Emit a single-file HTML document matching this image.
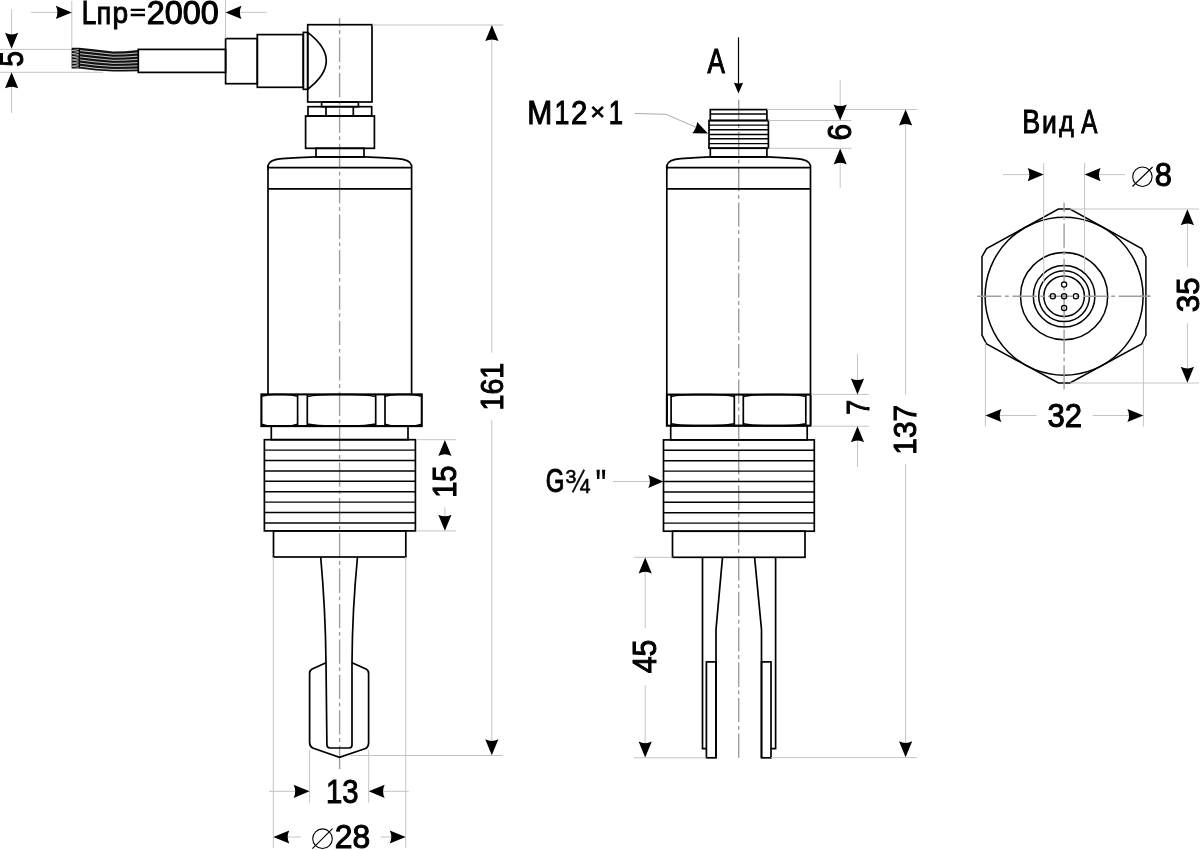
<!DOCTYPE html>
<html><head><meta charset="utf-8"><title>Drawing</title>
<style>
html,body{margin:0;padding:0;background:#fff;}
svg{display:block;will-change:transform;}
.o{fill:none;stroke:#000;stroke-width:1.7;}
.ot{fill:none;stroke:#000;stroke-width:1.45;}
.oh{fill:none;stroke:#000;stroke-width:2.1;}
.o2{fill:none;stroke:#000;stroke-width:1.5;}
.o3{fill:none;stroke:#000;stroke-width:1.5;}
.o4{fill:none;stroke:#000;stroke-width:1.25;}
.wk{fill:none;stroke:#000;stroke-width:1.2;}
.t{fill:none;stroke:#c4c4c4;stroke-width:1;}
.k{fill:none;stroke:#000;stroke-width:1.2;}
.t2{fill:none;stroke:#aaa;stroke-width:1;}
.d{fill:none;stroke:#000;stroke-width:1.1;}
.c2{fill:none;stroke:#9e9e9e;stroke-width:1.4;}
.c{fill:none;stroke:#9e9e9e;stroke-width:1.4;stroke-dasharray:24.3 3.6 3.8 3.7;}
.ar{fill:#000;stroke:none;}
text{font-family:"Liberation Sans",sans-serif;font-size:100px;fill:#000;stroke:#000;stroke-width:3.2;}
</style></head>
<body>
<svg width="1200" height="850" viewBox="0 0 1200 850">
<line class="c" x1="339.6" y1="18.2" x2="339.6" y2="769.3" stroke-dashoffset="16.0"/>
<line class="t" x1="0" y1="49.4" x2="71.6" y2="49.4"/>
<line class="t" x1="0" y1="72.3" x2="103" y2="72.3"/>
<polygon fill="#111" points="71.6,47.7 79.3,47.7 96,49.4 113,51.5 125,51.2 138.3,50.0 138.3,71.3 125,71.5 113,71.6 96,70.6 79.3,68.4 71.6,68.4"/>
<path fill="none" stroke="#fff" stroke-width="0.75" d="M79.3,50.52 L96,52.29 L113,54.24 L125,53.97 L138.3,52.90"/>
<path fill="none" stroke="#fff" stroke-width="0.6" d="M79.3,49.32 L72.2,50.52 L79.3,51.72"/>
<path fill="none" stroke="#fff" stroke-width="0.75" d="M79.3,53.66 L96,55.50 L113,57.29 L125,57.04 L138.3,56.13"/>
<path fill="none" stroke="#fff" stroke-width="0.6" d="M79.3,52.46 L72.2,53.66 L79.3,54.86"/>
<path fill="none" stroke="#fff" stroke-width="0.75" d="M79.3,56.80 L96,58.72 L113,60.33 L125,60.12 L138.3,59.36"/>
<path fill="none" stroke="#fff" stroke-width="0.6" d="M79.3,55.60 L72.2,56.80 L79.3,58.00"/>
<path fill="none" stroke="#fff" stroke-width="0.75" d="M79.3,59.93 L96,61.93 L113,63.38 L125,63.20 L138.3,62.59"/>
<path fill="none" stroke="#fff" stroke-width="0.6" d="M79.3,58.73 L72.2,59.93 L79.3,61.13"/>
<path fill="none" stroke="#fff" stroke-width="0.75" d="M79.3,63.07 L96,65.14 L113,66.42 L125,66.27 L138.3,65.81"/>
<path fill="none" stroke="#fff" stroke-width="0.6" d="M79.3,61.87 L72.2,63.07 L79.3,64.27"/>
<path fill="none" stroke="#fff" stroke-width="0.75" d="M79.3,66.20 L96,68.35 L113,69.47 L125,69.35 L138.3,69.04"/>
<path fill="none" stroke="#fff" stroke-width="0.6" d="M79.3,65.00 L72.2,66.20 L79.3,67.40"/>
<line class="wk" x1="79.3" y1="47.9" x2="79.3" y2="68.2"/>
<rect class="o" x="138.3" y="49.4" width="87.30" height="23.00"/>
<rect class="o" x="225.6" y="38.6" width="31.70" height="45.10"/>
<rect class="o" x="257.3" y="34.6" width="46.00" height="52.70"/>
<rect class="o" x="303.3" y="32.4" width="4.40" height="56.90"/>
<path class="o" d="M307.7,32.4 Q344.9,60.85 307.7,89.3"/>
<rect class="o" x="307.7" y="24.7" width="64.30" height="77.30"/>
<rect class="o" x="321.6" y="102" width="36.80" height="4.70"/>
<rect class="o" x="308" y="106.7" width="63.70" height="9.30"/>
<line class="o" x1="326" y1="106.7" x2="326" y2="116"/>
<line class="o" x1="353.3" y1="106.7" x2="353.3" y2="116"/>
<rect class="o" x="305.6" y="116" width="68.80" height="32.30"/>
<rect class="o" x="316" y="148.3" width="48.00" height="8.70"/>
<path class="o" d="M268,170 L268,165.5 Q269.5,159.5 282,158.6 Q298,157.3 316,156.9 L364,156.9 Q381.6,157.3 397.6,158.6 Q410.1,159.5 411.6,165.5 L411.6,394.4"/>
<path class="o" d="M268,165.5 L268,394.4"/>
<line class="o" x1="268" y1="167.6" x2="411.6" y2="167.6"/>
<line class="o" x1="268" y1="188.9" x2="411.6" y2="188.9"/>
<rect class="oh" x="261.4" y="394.4" width="160.35" height="31.70"/>
<line class="o" x1="297.6" y1="394.4" x2="297.6" y2="426.1"/>
<line class="o" x1="307.3" y1="394.4" x2="307.3" y2="426.1"/>
<line class="o" x1="375.7" y1="394.4" x2="375.7" y2="426.1"/>
<line class="o" x1="385" y1="394.4" x2="385" y2="426.1"/>
<path class="o2" d="M261.4,396.4 Q266.83,394.4 274.07,394.4 L284.93,394.4 Q292.17,394.4 297.6,396.4"/>
<path class="o2" d="M261.4,424.1 Q266.83,426.1 274.07,426.1 L284.93,426.1 Q292.17,426.1 297.6,424.1"/>
<path class="o2" d="M307.3,396.4 Q317.56,394.4 331.24,394.4 L351.76,394.4 Q365.44,394.4 375.7,396.4"/>
<path class="o2" d="M307.3,424.1 Q317.56,426.1 331.24,426.1 L351.76,426.1 Q365.44,426.1 375.7,424.1"/>
<path class="o2" d="M385,396.4 Q390.5125,394.4 397.8625,394.4 L408.8875,394.4 Q416.2375,394.4 421.75,396.4"/>
<path class="o2" d="M385,424.1 Q390.5125,426.1 397.8625,426.1 L408.8875,426.1 Q416.2375,426.1 421.75,424.1"/>
<rect class="o" x="271.3" y="426.1" width="136.70" height="13.60"/>
<rect class="o" x="264.4" y="439.7" width="151.00" height="91.20"/>
<line class="ot" x1="264.4" y1="450.1" x2="415.4" y2="450.1"/>
<line class="ot" x1="264.4" y1="460.5" x2="415.4" y2="460.5"/>
<line class="ot" x1="264.4" y1="470.9" x2="415.4" y2="470.9"/>
<line class="ot" x1="264.4" y1="481.3" x2="415.4" y2="481.3"/>
<line class="ot" x1="264.4" y1="491.7" x2="415.4" y2="491.7"/>
<line class="ot" x1="264.4" y1="502.1" x2="415.4" y2="502.1"/>
<line class="ot" x1="264.4" y1="512.5" x2="415.4" y2="512.5"/>
<line class="ot" x1="264.4" y1="522.9" x2="415.4" y2="522.9"/>
<rect class="o" x="273.5" y="530.9" width="132.30" height="26.10"/>
<path class="o" d="M320.7,557 Q325.5,610 326,662.7 L326.9,744.5 Q327,748 330,748 L349,748 Q352,748 352,745 L352,662.7 Q352.3,610 357.5,557"/>
<path class="o" d="M326,662.7 L311.7,669.3 Q309.6,670.6 309.6,673.5 L309.6,742.5 Q309.6,746.5 312.7,748 L339.5,757.3 L365.5,748.5 Q368.6,747 368.6,743 L368.6,673.5 Q368.6,670.6 366.5,669.3 L352,662.7"/>
<line class="t" x1="71.8" y1="1" x2="71.8" y2="47.6"/>
<line class="t" x1="225.5" y1="0" x2="225.5" y2="38.6"/>
<line class="t" x1="31" y1="12.4" x2="60" y2="12.4"/>
<path class="ar" d="M71.8,12.4 L55.8,19.0 Q59.099999999999994,12.4 55.8,5.800000000000001 Z"/>
<line class="t" x1="238" y1="12.4" x2="266.7" y2="12.4"/>
<path class="ar" d="M225.5,12.4 L241.5,19.0 Q238.2,12.4 241.5,5.800000000000001 Z"/>
<text transform="translate(81.87,23.68) scale(0.2617,0.3239)">L</text>
<text transform="translate(96.67,23.69) scale(0.2659,0.3107)">п</text>
<text transform="translate(112.59,23.03) scale(0.2812,0.3032)">р</text>
<path class="ar" d="M130.7,8.65 H145 V10.9 H130.7 Z M130.7,13.7 H145 V16.2 H130.7 Z"/>
<text transform="translate(146.73,23.55) scale(0.3240,0.3274)">2000</text>
<line class="t" x1="11.6" y1="9.2" x2="11.6" y2="36"/>
<path class="ar" d="M11.6,48.8 L18.2,32.8 Q11.6,36.099999999999994 5.0,32.8 Z"/>
<line class="t" x1="11.6" y1="86" x2="11.6" y2="113"/>
<path class="ar" d="M11.6,72.3 L18.2,88.3 Q11.6,85.0 5.0,88.3 Z"/>
<text transform="translate(22.93,66.76) rotate(-90) scale(0.2824,0.3347)">5</text>
<line class="t" x1="372" y1="25.0" x2="503.3" y2="25.0"/>
<line class="t" x1="350" y1="755.5" x2="503" y2="755.5"/>
<line class="t" x1="491.8" y1="36" x2="491.8" y2="352.7"/>
<line class="t" x1="491.8" y1="420" x2="491.8" y2="744"/>
<path class="ar" d="M491.9,25.1 L498.5,41.1 Q491.9,37.800000000000004 485.29999999999995,41.1 Z"/>
<path class="ar" d="M491.8,755.3 L498.40000000000003,739.3 Q491.8,742.5999999999999 485.2,739.3 Z"/>
<text transform="translate(502.67,410.52) rotate(-90) scale(0.2861,0.3151)">161</text>
<line class="t" x1="416" y1="439.7" x2="456" y2="439.7"/>
<line class="t" x1="416" y1="530.9" x2="456" y2="530.9"/>
<line class="t" x1="444.9" y1="507.3" x2="444.9" y2="519"/>
<path class="ar" d="M444.9,439.9 L451.5,455.9 Q444.9,452.59999999999997 438.29999999999995,455.9 Z"/>
<path class="ar" d="M444.9,530.7 L451.5,514.7 Q444.9,518.0 438.29999999999995,514.7 Z"/>
<text transform="translate(456.23,497.85) rotate(-90) scale(0.2912,0.3333)">15</text>
<line class="t" x1="273.3" y1="557" x2="273.3" y2="848"/>
<line class="t" x1="405.7" y1="557" x2="405.7" y2="848"/>
<line class="t" x1="309.6" y1="750" x2="309.6" y2="802.7"/>
<line class="t" x1="368.7" y1="750" x2="368.7" y2="802.7"/>
<line class="t" x1="269" y1="791.3" x2="298" y2="791.3"/>
<path class="ar" d="M309.6,791.3 L293.6,797.9 Q296.90000000000003,791.3 293.6,784.6999999999999 Z"/>
<line class="t" x1="380" y1="791.3" x2="408.7" y2="791.3"/>
<path class="ar" d="M368.7,791.3 L384.7,797.9 Q381.4,791.3 384.7,784.6999999999999 Z"/>
<text transform="translate(326.05,802.65) scale(0.2922,0.3260)">13</text>
<line class="t" x1="285" y1="837" x2="300.7" y2="837"/>
<path class="ar" d="M273.3,837 L289.3,843.6 Q286.0,837 289.3,830.4 Z"/>
<line class="t" x1="380.7" y1="837" x2="394" y2="837"/>
<path class="ar" d="M405.7,837 L389.7,843.6 Q393.0,837 389.7,830.4 Z"/>
<circle class="d" cx="322.5" cy="838.7" r="9.8"/>
<line class="d" x1="312.4" y1="848.6" x2="332.5" y2="828.7"/>
<text transform="translate(334.74,848.24) scale(0.3190,0.3301)">28</text>
<line class="c" x1="738.7" y1="99.7" x2="738.7" y2="757.8" stroke-dashoffset="3.5"/>
<rect class="o" x="710.3" y="109.6" width="56.60" height="10.90"/>
<line class="ot" x1="710.3" y1="113.9" x2="766.9" y2="113.9"/>
<rect class="o" x="709" y="120.5" width="59.40" height="27.70"/>
<line class="ot" x1="709" y1="125.1" x2="768.4" y2="125.1"/>
<line class="ot" x1="709" y1="129.8" x2="768.4" y2="129.8"/>
<line class="ot" x1="709" y1="134.4" x2="768.4" y2="134.4"/>
<line class="ot" x1="709" y1="138.8" x2="768.4" y2="138.8"/>
<line class="ot" x1="709" y1="143.6" x2="768.4" y2="143.6"/>
<rect class="o" x="710.3" y="148.2" width="56.60" height="8.80"/>
<path class="o" d="M666.8,170 L666.8,165.5 Q668.3,159.5 680.8,158.6 Q696.8,157.3 710.3,156.9 L766.9,156.9 Q780.5,157.3 796.5,158.6 Q809.0,159.5 810.5,165.5 L810.5,394.4"/>
<path class="o" d="M666.8,165.5 L666.8,394.4"/>
<line class="o" x1="666.8" y1="167.6" x2="810.5" y2="167.6"/>
<line class="o" x1="666.8" y1="188.9" x2="810.5" y2="188.9"/>
<rect class="oh" x="666.9" y="394.6" width="143.70" height="31.10"/>
<line class="o" x1="671.1" y1="394.6" x2="671.1" y2="425.7"/>
<line class="o" x1="734.3" y1="394.6" x2="734.3" y2="425.7"/>
<line class="o" x1="743.3" y1="394.6" x2="743.3" y2="425.7"/>
<line class="o" x1="805.8" y1="394.6" x2="805.8" y2="425.7"/>
<path class="o2" d="M671.1,396.6 Q680.58,394.6 693.22,394.6 L712.18,394.6 Q724.8199999999999,394.6 734.3,396.6"/>
<path class="o2" d="M671.1,423.7 Q680.58,425.7 693.22,425.7 L712.18,425.7 Q724.8199999999999,425.7 734.3,423.7"/>
<path class="o2" d="M743.3,396.6 Q752.675,394.6 765.175,394.6 L783.925,394.6 Q796.425,394.6 805.8,396.6"/>
<path class="o2" d="M743.3,423.7 Q752.675,425.7 765.175,425.7 L783.925,425.7 Q796.425,425.7 805.8,423.7"/>
<rect class="o" x="670.7" y="425.7" width="136.50" height="14.20"/>
<rect class="o" x="663.5" y="439.9" width="150.80" height="91.30"/>
<line class="ot" x1="663.5" y1="450.3" x2="814.3" y2="450.3"/>
<line class="ot" x1="663.5" y1="460.7" x2="814.3" y2="460.7"/>
<line class="ot" x1="663.5" y1="471.1" x2="814.3" y2="471.1"/>
<line class="ot" x1="663.5" y1="481.5" x2="814.3" y2="481.5"/>
<line class="ot" x1="663.5" y1="491.9" x2="814.3" y2="491.9"/>
<line class="ot" x1="663.5" y1="502.3" x2="814.3" y2="502.3"/>
<line class="ot" x1="663.5" y1="512.7" x2="814.3" y2="512.7"/>
<line class="ot" x1="663.5" y1="523.1" x2="814.3" y2="523.1"/>
<rect class="o" x="672.5" y="531.2" width="132.50" height="26.10"/>
<polyline class="o" points="702.5,557.3 702.5,748.6 706.4,748.6"/>
<polyline class="o" points="775.6,557.3 775.6,748.6 771,748.6"/>
<polyline class="o" points="722.5,557.3 716,629.5 716,757.8"/>
<polyline class="o" points="754.6,557.3 761.5,629.5 761.5,757.8"/>
<rect class="o" x="706.4" y="661.9" width="9.60" height="95.90"/>
<rect class="o" x="761.5" y="661.9" width="9.50" height="95.90"/>
<line class="k" x1="738.5" y1="37.4" x2="738.5" y2="84"/>
<path class="ar" d="M738.5,93.5 L743.1,82.7 Q738.5,84.3 733.9,82.7 Z"/>
<text transform="translate(707.52,73.45) scale(0.2600,0.3493)">A</text>
<text transform="translate(527.30,123.87) scale(0.3000,0.3296)">M</text>
<text transform="translate(554.40,123.87) scale(0.2674,0.3296)">1</text>
<text transform="translate(570.92,123.87) scale(0.2939,0.3278)">2</text>
<text transform="translate(590.23,120.47) scale(0.2542,0.2408)">×</text>
<text transform="translate(608.76,123.87) scale(0.2565,0.3296)">1</text>
<polyline class="t2" points="634.9,113.5 666,114.3 698,128.2"/>
<path class="ar" d="M708,133.4 L692.23,133.35 Q696.52,128.45 697.14,121.97 Z"/>
<line class="t" x1="767" y1="109.5" x2="917" y2="109.5"/>
<line class="t" x1="768.4" y1="120.5" x2="851.5" y2="120.5"/>
<line class="t" x1="768.4" y1="148.3" x2="851.5" y2="148.3"/>
<line class="t" x1="840.2" y1="80.2" x2="840.2" y2="107"/>
<line class="t" x1="840.2" y1="161" x2="840.2" y2="188"/>
<path class="ar" d="M840.2,120.4 L846.8000000000001,104.4 Q840.2,107.7 833.6,104.4 Z"/>
<path class="ar" d="M840.2,148.5 L846.8000000000001,164.5 Q840.2,161.2 833.6,164.5 Z"/>
<text transform="translate(851.35,140.59) rotate(-90) scale(0.2980,0.3274)">6</text>
<line class="t" x1="905.6" y1="122" x2="905.6" y2="394.3"/>
<line class="t" x1="905.6" y1="463.8" x2="905.6" y2="745"/>
<path class="ar" d="M905.6,109.6 L912.2,125.6 Q905.6,122.3 899.0,125.6 Z"/>
<path class="ar" d="M905.6,757.3 L912.2,741.3 Q905.6,744.5999999999999 899.0,741.3 Z"/>
<text transform="translate(916.46,454.69) rotate(-90) scale(0.2987,0.3219)">137</text>
<line class="t" x1="771" y1="757.6" x2="917" y2="757.6"/>
<line class="t" x1="811" y1="394.4" x2="868.9" y2="394.4"/>
<line class="t" x1="811" y1="426.2" x2="868.9" y2="426.2"/>
<line class="t" x1="857.5" y1="353.8" x2="857.5" y2="382"/>
<line class="t" x1="857.5" y1="438" x2="857.5" y2="466.9"/>
<path class="ar" d="M857.5,394.4 L864.1,378.4 Q857.5,381.7 850.9,378.4 Z"/>
<path class="ar" d="M857.5,426.2 L864.1,442.2 Q857.5,438.9 850.9,442.2 Z"/>
<text transform="translate(868.58,414.77) rotate(-90) scale(0.2687,0.3208)">7</text>
<text stroke-width="3.5" transform="translate(545.68,492.35) scale(0.2406,0.3260)">G</text>
<text stroke-width="5" transform="translate(565.61,482.63) scale(0.1961,0.1836)">3</text>
<text stroke-width="5" transform="translate(579.81,492.61) scale(0.1925,0.1944)">4</text>
<line x1="572.6" y1="492.4" x2="584.2" y2="469.8" stroke="#111" stroke-width="2"/>
<path class="ar" d="M596.6,469.8 L599.8,469.8 L599.3,479 L597.1,479 Z M602,469.8 L605.2,469.8 L604.7,479 L602.5,479 Z"/>
<line class="t" x1="613" y1="481.5" x2="650" y2="481.5"/>
<path class="ar" d="M663.3,481.5 L648.3,488.0 Q651.5999999999999,481.5 648.3,475.0 Z"/>
<line class="t" x1="633.8" y1="557.3" x2="672.5" y2="557.3"/>
<line class="t" x1="633.8" y1="757.8" x2="706.4" y2="757.8"/>
<line class="t" x1="645.2" y1="570" x2="645.2" y2="628"/>
<line class="t" x1="645.2" y1="685.2" x2="645.2" y2="745"/>
<path class="ar" d="M645.2,557.5 L651.8000000000001,573.5 Q645.2,570.2 638.6,573.5 Z"/>
<path class="ar" d="M645.2,757.6 L651.8000000000001,741.6 Q645.2,744.9 638.6,741.6 Z"/>
<text transform="translate(656.35,673.30) rotate(-90) scale(0.3037,0.3233)">45</text>
<text transform="translate(1022.22,132.67) scale(0.2679,0.3282)">В</text>
<text transform="translate(1042.07,132.69) scale(0.2652,0.3055)">и</text>
<text transform="translate(1059.15,131.39) scale(0.2492,0.2813)">д</text>
<text transform="translate(1081.18,132.67) scale(0.2414,0.3282)">А</text>
<polygon class="o3" points="1058.4,209 1070,209 1141.7,248.6 1145.9,256.7 1145.9,335.2 1141.7,344 1070,383 1058.4,383 986.6,344 982,335.2 982,256.7 986.6,248.6"/>
<circle class="o3" cx="1064.1" cy="296.2" r="79"/>
<circle class="o3" cx="1064.1" cy="296.2" r="43.6"/>
<circle class="o3" cx="1064.1" cy="296.2" r="30.8"/>
<circle class="o3" cx="1064.1" cy="296.2" r="25.4"/>
<circle class="o3" cx="1064.1" cy="296.2" r="20.3"/>
<line class="c" x1="977.1" y1="296.2" x2="1150.5" y2="296.2" stroke-dashoffset="0"/>
<line class="c2" x1="1140" y1="296.2" x2="1150.5" y2="296.2"/>
<line class="c" x1="1064.1" y1="202.7" x2="1064.1" y2="389.5" stroke-dashoffset="14.7"/>
<circle class="o4" cx="1064.1" cy="284.4" r="2.6"/>
<circle class="o4" cx="1064.1" cy="308.0" r="2.6"/>
<circle class="o4" cx="1052.8" cy="296.2" r="2.6"/>
<circle class="o4" cx="1075.8999999999999" cy="296.2" r="2.6"/>
<circle class="o4" cx="1064.1" cy="296.2" r="2.6"/>
<line class="t" x1="1043.7" y1="163" x2="1043.7" y2="282"/>
<line class="t" x1="1084.6" y1="163" x2="1084.6" y2="272"/>
<line class="t" x1="1003" y1="174.6" x2="1032" y2="174.6"/>
<path class="ar" d="M1043.7,174.6 L1027.7,181.2 Q1031.0,174.6 1027.7,168.0 Z"/>
<line class="t" x1="1096" y1="174.6" x2="1125" y2="174.6"/>
<path class="ar" d="M1084.6,174.6 L1100.6,181.2 Q1097.3,174.6 1100.6,168.0 Z"/>
<circle class="d" cx="1142.4" cy="176.75" r="9.7"/>
<line class="d" x1="1132.4" y1="186.5" x2="1152.6" y2="167"/>
<text transform="translate(1154.68,186.34) scale(0.3080,0.3288)">8</text>
<line class="t" x1="1070" y1="209" x2="1199" y2="209"/>
<line class="t" x1="1070" y1="383" x2="1199" y2="383"/>
<line class="t" x1="1187.4" y1="221" x2="1187.4" y2="266.5"/>
<line class="t" x1="1187.4" y1="323.3" x2="1187.4" y2="371"/>
<path class="ar" d="M1187.4,209.2 L1194.0,225.2 Q1187.4,221.89999999999998 1180.8000000000002,225.2 Z"/>
<path class="ar" d="M1187.4,382.8 L1194.0,366.8 Q1187.4,370.1 1180.8000000000002,366.8 Z"/>
<text transform="translate(1198.56,312.13) rotate(-90) scale(0.3132,0.3219)">35</text>
<line class="t" x1="985.4" y1="342.7" x2="985.4" y2="426.6"/>
<line class="t" x1="1143.4" y1="342.7" x2="1143.4" y2="426.6"/>
<line class="t" x1="997" y1="415.5" x2="1036.5" y2="415.5"/>
<path class="ar" d="M985.4,415.5 L1001.4,422.1 Q998.1,415.5 1001.4,408.9 Z"/>
<line class="t" x1="1092.7" y1="415.5" x2="1131" y2="415.5"/>
<path class="ar" d="M1143.4,415.5 L1127.4,422.1 Q1130.7,415.5 1127.4,408.9 Z"/>
<text transform="translate(1047.38,427.14) scale(0.3113,0.3315)">32</text>
</svg>
</body></html>
